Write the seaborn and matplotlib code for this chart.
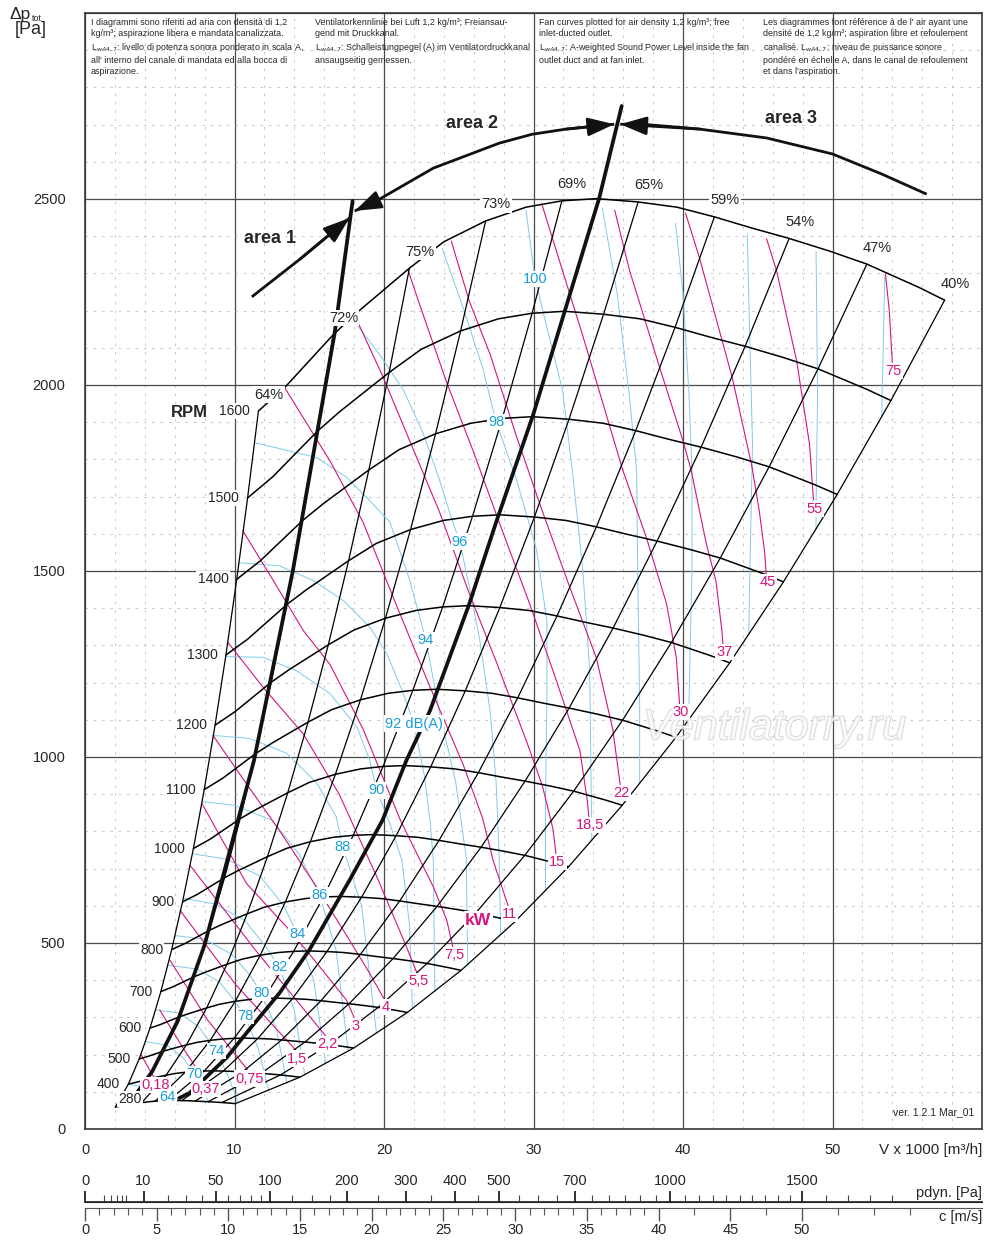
import numpy as np
import pandas as pd
import matplotlib
matplotlib.use("Agg")
import matplotlib.pyplot as plt
import matplotlib.patheffects as pe
import seaborn as sns

# ---- values ----
rpm = [280, 400, 500, 600, 700, 800, 900, 1000, 1100, 1200, 1300, 1400, 1500, 1600]

# 1600 RPM fan curve: V x 1000 [m3/h], total pressure [Pa]
base_V = [11.6, 13.4, 16.6, 18.2, 21.7, 24.0, 26.8, 29.5, 31.9, 34.2, 37.0, 39.6,
          42.1, 44.6, 47.1, 49.8, 52.3, 55.8, 57.5]
base_p = [1930, 1995, 2135, 2195, 2314, 2385, 2441, 2478, 2495, 2501, 2492, 2478,
          2452, 2422, 2394, 2360, 2325, 2262, 2228]
eff_lab = ['64%', '', '72%', '', '75%', '', '73%', '', '69%', '', '65%', '',
           '59%', '', '54%', '', '47%', '', '40%']

# absorbed power lines [kW]
pw_lab = ['0,18', '0,37', '0,75', '1,5', '2,2', '3', '4', '5,5', '7,5',
          '11', '15', '18,5', '22', '30', '37', '45', '55', '75']
pw_V = [[3.75, 4.3, 4.6],
        [5.0, 6.6, 8.0],
        [5.68, 8.2, 10.9],
        [6.35, 10.1, 14.1],
        [7.02, 11.4, 16.1],
        [7.82, 10.8, 13.9, 15.7, 17.5, 18.0],
        [8.56, 10.8, 13.0, 15.5, 17.7, 19.05, 20.0],
        [9.56, 11.9, 14.6, 17.0, 19.5, 21.5, 22.2],
        [10.56, 12.6, 14.6, 16.4, 18.6, 21.1, 22.2, 23.3, 24.2, 24.6],
        [13.37, 16.4, 18.6, 20.8, 23.06, 25.3, 26.6, 27.3, 28.3],
        [18.05, 19.9, 21.7, 23.7, 25.7, 27.5, 29.5, 30.6, 31.3, 31.5],
        [21.6, 22.3, 24.2, 25.96, 27.96, 29.75, 31.5, 33.1, 33.6, 33.7],
        [24.5, 25.7, 27.1, 28.86, 30.6, 32.4, 34.2, 35.3, 35.8],
        [30.55, 33.3, 35.98, 37.55, 38.9, 39.55, 39.77],
        [35.43, 36.43, 38.44, 40.0, 40.55, 41.56, 42.2, 42.6, 42.67],
        [40.17, 41.1, 43.3, 44.6, 45.1, 45.45, 45.57],
        [45.59, 46.26, 47.6, 48.46, 48.73],
        [53.54, 53.8, 54.0]]
pw_p = [[200, 160, 140],
        [320, 215, 130],
        [454, 293, 158],
        [588, 387, 212],
        [709, 481, 250],
        [875, 660, 525, 436, 346, 300],
        [1058, 928, 803, 650, 507, 418, 350],
        [1308, 1188, 1062, 900, 680, 490, 420],
        [1608, 1474, 1340, 1248, 1075, 830, 740, 651, 561, 490],
        [1992, 1795, 1631, 1411, 1190, 979, 835, 722, 600],
        [2186, 2025, 1852, 1660, 1440, 1257, 1046, 922, 807, 740],
        [2310, 2226, 2006, 1823, 1603, 1411, 1209, 1018, 883, 840],
        [2387, 2226, 2082, 1862, 1660, 1459, 1267, 1075, 925],
        [2487, 2132, 1770, 1590, 1412, 1268, 1143],
        [2470, 2307, 2047, 1850, 1770, 1573, 1474, 1340, 1304],
        [2462, 2342, 2019, 1783, 1662, 1555, 1492],
        [2393, 2307, 2065, 1842, 1690],
        [2299, 2199, 2060]]

# sound power lines [dB(A)], label sits on point snd_at
snd_lab = ['64', '70', '74', '78', '80', '82', '84', '86', '88', '90', '92 dB(A)',
           '94', '96', '98', '100', '', '', '', '', '']
snd_at = [2, 3, 3, 4, 4, 4, 4, 4, 5, 6, 7, 6, 6, 3, 1, 0, 0, 0, 0, 0]
snd_V = [[2.9, 4.2, 5.5, 6.2],
         [4.05, 5.5, 6.6, 7.3, 7.9, 8.3],
         [4.73, 6.3, 7.6, 8.8, 9.6, 10.2],
         [5.55, 7.5, 9.0, 10.0, 10.7, 11.6, 12.3],
         [6.03, 8.0, 9.8, 11.0, 11.8, 12.8, 13.5],
         [6.58, 8.7, 10.7, 12.1, 13.0, 14.0, 14.7],
         [7.2, 9.5, 11.7, 13.3, 14.2, 15.3, 16.1],
         [7.84, 10.0, 12.5, 14.3, 15.7, 16.8, 17.6],
         [8.6, 11.0, 13.5, 15.5, 16.8, 17.25, 18.5, 19.5],
         [9.42, 11.9, 14.15, 16.4, 18.2, 19.05, 19.5, 20.4, 21.2, 21.7, 21.9],
         [10.36, 13.0, 15.3, 17.3, 19.05, 20.2, 21.2, 22.0, 22.7, 23.1, 23.3, 23.4],
         [11.36, 15.5, 17.5, 19.05, 20.4, 21.7, 22.8, 23.7, 24.8, 25.5, 25.6],
         [17.7, 19.7, 21.3, 22.6, 23.7, 24.6, 25.07, 25.7, 26.4, 27.1, 27.5, 27.7, 27.8],
         [23.9, 25.3, 26.6, 27.5, 28.86, 30.2, 30.9, 30.9, 30.8, 30.8],
         [29.5, 30.1, 31.95, 32.6, 33.3, 33.76, 33.87, 33.9],
         [34.6, 35.6, 36.4, 36.9, 36.97, 37.1, 37.1],
         [39.5, 40.0, 40.4, 40.6, 40.6, 40.4, 40.4],
         [44.3, 44.45, 44.65, 44.45, 44.4],
         [48.9, 49.0, 48.9, 48.9],
         [53.5, 53.3, 53.3]]
snd_p = [[120, 112, 86, 65],
         [235, 225, 190, 148, 100, 70],
         [320, 312, 275, 209, 140, 75],
         [440, 430, 395, 345, 303, 215, 102],
         [520, 510, 470, 415, 365, 270, 123],
         [620, 605, 560, 490, 435, 320, 146],
         [740, 725, 680, 600, 524, 400, 175],
         [880, 870, 830, 740, 628, 480, 209],
         [1058, 1050, 1010, 930, 840, 757, 600, 256],
         [1270, 1268, 1232, 1170, 1080, 991, 910, 820, 722, 550, 323],
         [1522, 1514, 1474, 1420, 1349, 1277, 1180, 1090, 950, 820, 722, 369],
         [1845, 1805, 1752, 1689, 1631, 1478, 1315, 1123, 932, 730, 442],
         [2188, 2082, 1986, 1872, 1746, 1631, 1579, 1459, 1316, 1123, 932, 740, 521],
         [2366, 2207, 2046, 1900, 1746, 1558, 1365, 1171, 883, 640],
         [2470, 2285, 1984, 1770, 1501, 1233, 875, 775],
         [2476, 2245, 1976, 1770, 1501, 1144, 928],
         [2435, 2245, 1976, 1770, 1501, 1144, 1100],
         [2406, 2153, 1842, 1455, 1329],
         [2360, 1976, 1670, 1612],
         [2293, 1939, 1915]]

# thick boundaries between working areas
bnd_V = [[2.9, 4.5, 6.2, 8.0, 11.3, 13.9, 16.7, 17.9],
         [6.3, 7.0, 9.5, 10.8, 13.0, 15.0, 17.7, 19.9, 21.5, 23.06, 25.7, 27.5, 29.97, 34.4, 35.9]]
bnd_p = [[65, 155, 290, 495, 990, 1500, 2140, 2495],
         [83, 97, 193, 258, 365, 481, 669, 830, 991, 1123, 1411, 1631, 1919, 2503, 2750]]

# arcs with arrows naming the areas
arc_V = [[11.16, 14.4, 17.7],
         [18.05, 19.5, 23.3, 27.7, 29.9, 32.2, 35.4],
         [35.8, 37.3, 41.1, 45.6, 50.0, 53.3, 56.3]]
arc_p = [[2237, 2339, 2449],
         [2468, 2495, 2583, 2650, 2674, 2688, 2701],
         [2701, 2701, 2688, 2664, 2621, 2567, 2513]]
area_lab = ['area 1', 'area 2', 'area 3']
area_V = [12.4, 25.9, 47.2]
area_p = [2395, 2704, 2717]

# lower scales
rho = 1.2
c_major = [0, 5, 10, 15, 20, 25, 30, 35, 40, 45, 50]
c_minor = [c for c in range(1, 40) if c % 5] + [42.5, 47.5, 52.5, 55, 57.5]
pd_major = [0, 10, 50, 100, 200, 300, 400, 500, 700, 1000, 1500]
pd_minor = [1, 2, 3, 4, 5, 20, 30, 40, 60, 70, 80, 90, 125, 150, 175, 250, 350, 450,
            550, 600, 650, 750, 800, 850, 900, 950, 1050, 1100, 1150, 1200, 1250,
            1300, 1350, 1400, 1450, 1600, 1700, 1800, 1900]

notes = [
    "I diagrammi sono riferiti ad aria con densità di 1,2\nkg/m³; aspirazione libera e mandata canalizzata.\n"
    "L$_{wA4,7}$: livello di potenza sonora ponderato in scala A,\nall' interno del canale di mandata ed alla bocca di\naspirazione.",
    "Ventilatorkennlinie bei Luft 1,2 kg/m³; Freiansau-\ngend mit Druckkanal.\n"
    "L$_{wA4,7}$: Schalleistungpegel (A) im Ventilatordruckkanal\nansaugseitig gemessen.",
    "Fan curves plotted for air density 1,2 kg/m³; free\ninlet-ducted outlet.\n"
    "L$_{wA4,7}$: A-weighted Sound Power Level inside the fan\noutlet duct and at fan inlet.",
    "Les diagrammes font référence à de l' air ayant une\ndensité de 1,2 kg/m³; aspiration libre et refoulement\n"
    "canalisé. L$_{wA4,7}$: niveau de puissance sonore\npondéré en échelle A, dans le canal de refoulement\net dans l'aspiration.",
]

# ---- style ----
sns.set_style("white")
plt.rcParams['font.family'] = ['Liberation Sans', 'DejaVu Sans']
MAG = '#d4157f'
CYL = '#7fcbea'
CYT = '#1a9ddb'
W = 1000
H = 1259

fig = plt.figure(figsize=(W / 100, H / 100), dpi=100)
ax = fig.add_axes([85 / W, 1 - 1129 / H, 897 / W, 1116 / H])

# sound lines
rows = []
for i, (vs, ps) in enumerate(zip(snd_V, snd_p)):
    rows += [(i, v, p) for v, p in zip(vs, ps)]
snd_df = pd.DataFrame(rows, columns=['line', 'V', 'p'])
sns.lineplot(data=snd_df, x='V', y='p', units='line', estimator=None, sort=False,
             color=CYL, lw=0.7, ax=ax, zorder=1, legend=False)

# power lines
rows = []
for i, (vs, ps) in enumerate(zip(pw_V, pw_p)):
    rows += [(i, v, p) for v, p in zip(vs, ps)]
pw_df = pd.DataFrame(rows, columns=['line', 'V', 'p'])
sns.lineplot(data=pw_df, x='V', y='p', units='line', estimator=None, sort=False,
             color=MAG, lw=0.8, ax=ax, zorder=2, legend=False)

# fan curves at each speed (fan laws from the 1600 RPM curve)
ratio = np.array(rpm) / 1600
fan = pd.DataFrame([(n, v * r, p * r ** 2) for n, r in zip(rpm, ratio)
                    for v, p in zip(base_V, base_p)], columns=['rpm', 'V', 'p'])
sns.lineplot(data=fan, x='V', y='p', units='rpm', estimator=None, sort=False,
             color='black', lw=1.1, ax=ax, zorder=3, legend=False)

# efficiency lines through the same points of every curve
eff = pd.DataFrame([(k, base_V[k] * r, base_p[k] * r ** 2)
                    for k, lab in enumerate(eff_lab) if lab for r in ratio],
                   columns=['line', 'V', 'p'])
sns.lineplot(data=eff, x='V', y='p', units='line', estimator=None, sort=False,
             color='black', lw=0.9, ax=ax, zorder=3, legend=False)

# area boundaries
rows = []
for i, (vs, ps) in enumerate(zip(bnd_V, bnd_p)):
    rows += [(i, v, p) for v, p in zip(vs, ps)]
sns.lineplot(data=pd.DataFrame(rows, columns=['line', 'V', 'p']), x='V', y='p',
             units='line', estimator=None, sort=False, color='#111111', lw=2.7,
             ax=ax, zorder=4, legend=False)

ax.set_xlim(0, 60)
ax.set_ylim(0, 3000)
ax.set_xlabel('')
ax.set_ylabel('')
ax.set_xticks(range(0, 61, 10))
ax.set_xticklabels([str(v) for v in range(0, 51, 10)] + [''])
ax.set_yticks(range(0, 3001, 500))
ax.set_yticklabels([str(v) for v in range(0, 2501, 500)] + [''])
ax.set_xticks(np.arange(0, 61, 2), minor=True)
ax.set_yticks(np.arange(0, 3001, 100), minor=True)
ax.grid(which='major', color='#4a4a4a', lw=0.9, zorder=0)
ax.grid(which='minor', color='#bdbdbd', lw=0.6, ls=(0, (3, 7)), zorder=0)
ax.tick_params(which='major', length=5, width=0.9, color='#4a4a4a', labelsize=10.5)
ax.tick_params(axis='y', pad=9)
ax.tick_params(axis='x', pad=5)
ax.tick_params(which='minor', length=0)
for s in ax.spines.values():
    s.set_color('#3a3a3a')
    s.set_linewidth(1.2)
ax.set_axisbelow(True)

# area arcs and arrows
for vs, ps in zip(arc_V, arc_p):
    ax.plot(vs, ps, color='#111111', lw=2.0, zorder=4, solid_capstyle='butt')
head = dict(arrowstyle='-|>,head_length=0.8,head_width=0.28', color='#111111', lw=2.0,
            mutation_scale=20, shrinkA=0, shrinkB=0)
arrow_ends = [(0, -1, -2), (1, 0, 1), (1, -1, -2), (2, 0, 2)]
for a, tip, frm in arrow_ends:
    ax.annotate('', xy=(arc_V[a][tip], arc_p[a][tip]), xytext=(arc_V[a][frm], arc_p[a][frm]),
                arrowprops=head, zorder=5)
for lab, v, p in zip(area_lab, area_V, area_p):
    ax.text(v, p, lab, fontsize=13, fontweight='bold', ha='center', va='center', zorder=6)

box = dict(boxstyle='square,pad=0.08', fc='white', ec='none')

# watermark, under the labels
ax.text(46.1, 1077, 'Ventilatorry.ru', fontsize=31, style='italic', color='white',
        alpha=0.6, ha='center', va='center', zorder=5,
        path_effects=[pe.withStroke(linewidth=1.3, foreground='#c4c4c4')])

# labels
for n, r in zip(rpm, ratio):
    x0, y0 = base_V[0] * r, base_p[0] * r ** 2
    if n == 280:
        off, ha = (2, 6), 'left'
    else:
        off, ha = (-6, 0), 'right'
    ax.annotate(str(n), (x0, y0), xytext=off, textcoords='offset points', ha=ha,
                va='center', fontsize=10, bbox=box, zorder=6)
ax.text(7.0, 1925, 'RPM', fontsize=12, fontweight='bold', ha='center', va='center')

for k, lab in enumerate(eff_lab):
    if lab:
        ax.annotate(lab, (base_V[k], base_p[k]), xytext=(-3, 9), textcoords='offset points',
                    ha='left', va='baseline', fontsize=10.5, bbox=box, zorder=6)

for lab, vs, ps in zip(pw_lab, pw_V, pw_p):
    ax.annotate(lab, (vs[-1], ps[-1]), xytext=(1, -1), textcoords='offset points',
                ha='center', va='top', fontsize=10.5, color=MAG, bbox=box, zorder=6)
ax.text(26.3, 561, 'kW', fontsize=12.5, fontweight='bold', color=MAG, ha='center',
        va='center', bbox=box, zorder=6)

for lab, k, vs, ps in zip(snd_lab, snd_at, snd_V, snd_p):
    if lab:
        ax.text(vs[k], ps[k], lab, fontsize=10.5, color=CYT, ha='center', va='center',
                bbox=box, zorder=6)

ax.text(59.5, 32, 'ver. 1.2.1 Mar_01', fontsize=7.5, ha='right', va='bottom')

# notes at the top of the chart
for j, t in enumerate(notes):
    fig.text((91 + 224 * j) / W, 1 - 18 / H, t, fontsize=6.4, linespacing=1.3,
             ha='left', va='top')

fig.text(9 / W, 1 - 19 / H, 'Δp', fontsize=12.5, ha='left', va='baseline')
fig.text(32 / W, 1 - 21 / H, 'tot', fontsize=6.5, ha='left', va='baseline')
fig.text(31 / W, 1 - 29 / H, '[Pa]', fontsize=13, ha='center', va='center')
fig.text(982 / W, 1 - 1150 / H, 'V x 1000 [m³/h]', fontsize=11, ha='right', va='center')

# dynamic pressure and outlet velocity scales
sc = fig.add_axes([85 / W, 1 - 1208 / H, 897 / W, 6 / H])
sc.set_xlim(0, 897 / 14.34)
sc.set_ylim(0, 1)
sc.set_yticks([])
for s in ['left', 'right']:
    sc.spines[s].set_visible(False)
sc.spines['bottom'].set_color('#555555')
sc.spines['top'].set_color('#222222')
sc.set_xticks(c_major)
sc.set_xticklabels([str(c) for c in c_major])
sc.set_xticks(c_minor, minor=True)
sc.tick_params(axis='x', which='major', length=9, width=1.0, color='#555555',
               labelsize=10.5, pad=2)
sc.tick_params(axis='x', which='minor', length=5, width=0.8, color='#555555')

pt = sc.twiny()
pt.set_xlim(sc.get_xlim())
for s in ['left', 'right', 'bottom']:
    pt.spines[s].set_visible(False)
pt.spines['top'].set_color('#222222')
pt.spines['top'].set_linewidth(1.2)
pt.set_xticks(np.sqrt(np.array(pd_major) / (rho / 2)))
pt.set_xticklabels([str(p) for p in pd_major])
pt.set_xticks(np.sqrt(np.array(pd_minor) / (rho / 2)), minor=True)
pt.tick_params(axis='x', which='major', length=8, width=1.3, color='#222222',
               labelsize=10.5, pad=2)
pt.tick_params(axis='x', which='minor', length=5, width=0.8, color='#444444')

fig.text(982 / W, 1 - 1193 / H, 'pdyn. [Pa]', fontsize=10.5, ha='right', va='center')
fig.text(982 / W, 1 - 1217 / H, 'c [m/s]', fontsize=10.5, ha='right', va='center')

fig.savefig('out.png', dpi=100)
